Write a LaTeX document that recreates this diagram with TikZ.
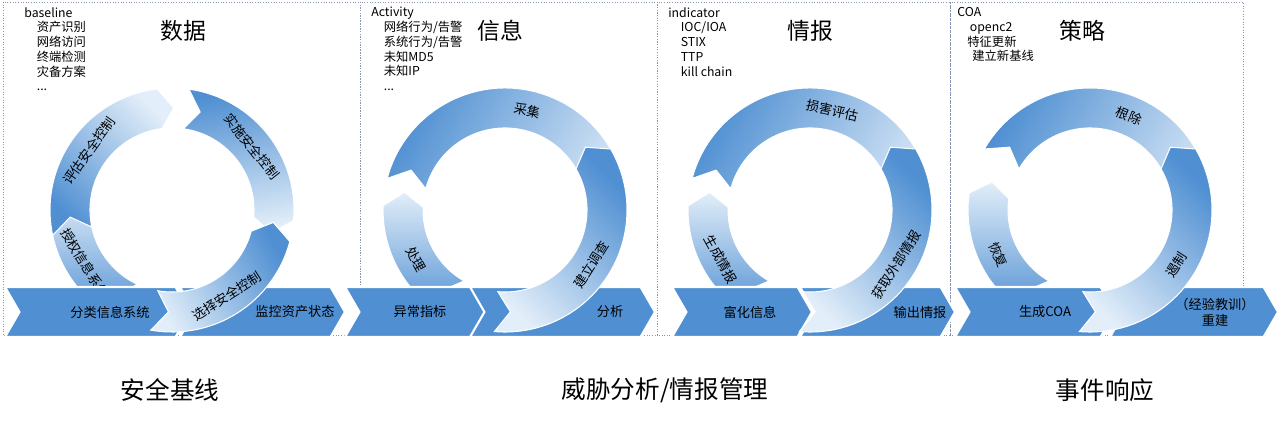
\documentclass[tikz,border=0pt]{standalone}
\usepackage{fontspec}
\setmainfont{Noto Sans CJK SC}
\usetikzlibrary{positioning, shapes.symbols}
\definecolor{segblue}{HTML}{4F8FD2}
\definecolor{seglight}{HTML}{E2EEF9}
\definecolor{panelline}{HTML}{8A95B5}

% one arrow-shaped piece of a ring: cx, cy, from, to, text, shading angle, name
\newcommand{\ringseg}[7]{%
  \begin{scope}[shift={(#1,#2)}]
    \pgfmathsetmacro\tipa{#4+8*sign(#4-#3)}
    \pgfmathsetmacro\notcha{#3+8*sign(#4-#3)}
    \pgfmathsetmacro\mida{(#3+#4)/2}
    \pgfmathsetmacro\rota{mod(\mida-90+450,180)-90}
    \shade[segshade, shading angle=#6] (#3:122) arc[start angle=#3, end angle=#4, radius=122]
      -- (\tipa:102) -- (#4:82) arc[start angle=#4, end angle=#3, radius=82]
      -- (\notcha:102) -- cycle;
    \node[seglabel, rotate=\rota] (#7) at (\mida:102) {#5};
  \end{scope}}

\begin{document}
\begin{tikzpicture}[
    x=0.02cm, y=0.02cm,
    panel/.style={draw=panelline, densely dotted, line width=0.5pt},
    segshade/.style={top color=segblue, bottom color=seglight, draw=white, line width=0.6pt},
    seglabel/.style={font=\fontsize{7.5}{9}\selectfont, inner sep=0pt},
    chev/.style={signal, signal to=east, signal from=west, signal pointer angle=120,
      fill=segblue, draw=white, line width=1.2pt, minimum height=1cm, inner sep=0pt, outer sep=0pt},
    chevtext/.style={font=\fontsize{7.5}{9}\selectfont, align=center},
    title/.style={font=\fontsize{13}{15}\selectfont},
    notes/.style={font=\fontsize{7}{8.4}\selectfont, align=left, anchor=north west, inner sep=0pt},
    caption/.style={font=\fontsize{14}{16}\selectfont}
  ]
  \useasboundingbox (0,0) rectangle (1280,421);

  % Panels
  \draw[panel] (3,86) rectangle (360,419);
  \draw[panel] (360,86) rectangle (657,419);
  \draw[panel] (657,86) rectangle (950,419);
  \draw[panel] (950,86) rectangle (1243,419);

  % Titles and notes
  \node[title] (t1) at (183,390) {数据};
  \node[title] (t2) at (500,390) {信息};
  \node[title] (t3) at (810,390) {情报};
  \node[title] (t4) at (1082,390) {策略};
  \node[notes] (n1) at (24,414) {baseline\\ \hspace*{0.25cm}资产识别\\ \hspace*{0.25cm}网络访问\\ \hspace*{0.25cm}终端检测\\ \hspace*{0.25cm}灾备方案\\ \hspace*{0.25cm}...};
  \node[notes] (n2) at (371,414) {Activity\\ \hspace*{0.25cm}网络行为/告警\\ \hspace*{0.25cm}系统行为/告警\\ \hspace*{0.25cm}未知MD5\\ \hspace*{0.25cm}未知IP\\ \hspace*{0.25cm}...};
  \node[notes] (n3) at (668,414) {indicator\\ \hspace*{0.25cm}IOC/IOA\\ \hspace*{0.25cm}STIX\\ \hspace*{0.25cm}TTP\\ \hspace*{0.25cm}kill chain};
  \node[notes] (n4) at (957,414) {COA\\ \hspace*{0.25cm}openc2\\ \hspace*{0.2cm}特征更新\\ \hspace*{0.3cm}建立新基线};

  % Rings, left lower pieces (behind the chevrons)
  \ringseg{172}{211}{245}{178}{授权信息系统}{180}{s14}
  \ringseg{505}{211}{240}{178}{处理}{180}{s22}
  \ringseg{810}{211}{240}{178}{生成情报}{180}{s32}
  \ringseg{1090}{211}{240}{172}{恢复}{180}{s42}

  % Chevrons
  \node[chev, minimum width=3.7cm] (c1) at (97.5,109) {};
  \node[chev, minimum width=3.3cm] (c2) at (262.5,109) {};
  \node[chev, minimum width=2.9cm] (c3) at (417.5,109) {};
  \node[chev, minimum width=3.7cm] (c4) at (562.5,109) {};
  \node[chev, minimum width=2.8cm] (c5) at (742,109) {};
  \node[chev, minimum width=3.1cm] (c6) at (877.5,109) {};
  \node[chev, minimum width=3.2cm] (c7) at (1035,109) {};
  \node[chev, minimum width=3.36cm] (c8) at (1194,109) {};
  \node[chevtext] (l1) at (110,109) {分类信息系统};
  \node[chevtext] (l2) at (295,109) {监控资产状态};
  \node[chevtext] (l3) at (420,109) {异常指标};
  \node[chevtext] (l4) at (610,109) {分析};
  \node[chevtext] (l5) at (750,109) {富化信息};
  \node[chevtext] (l6) at (920,109) {输出情报};
  \node[chevtext] (l7) at (1045,109) {生成COA};
  \node[chevtext] (l8) at (1215,109) {（经验教训）\\重建};

  % Rings, other pieces
  \ringseg{172}{211}{192}{97}{评估安全控制}{135}{s11}
  \ringseg{172}{211}{82}{-5}{实施安全控制}{10}{s12}
  \ringseg{172}{211}{-100}{-15}{选择安全控制}{-60}{s13}
  \ringseg{505}{211}{165}{-10}{采集}{60}{s21}
  \ringseg{505}{211}{-95}{30}{建立调查}{-45}{s23}
  \ringseg{810}{211}{165}{-10}{损害评估}{60}{s31}
  \ringseg{810}{211}{-95}{30}{获取外部情报}{-45}{s33}
  \ringseg{1090}{211}{150}{-15}{根除}{60}{s41}
  \ringseg{1090}{211}{-95}{30}{遏制}{-45}{s43}

  % Captions
  \node[caption] (k1) at (170,31) {安全基线};
  \node[caption] (k2) at (665,31) {威胁分析/情报管理};
  \node[caption] (k3) at (1105,31) {事件响应};
\end{tikzpicture}
\end{document}
